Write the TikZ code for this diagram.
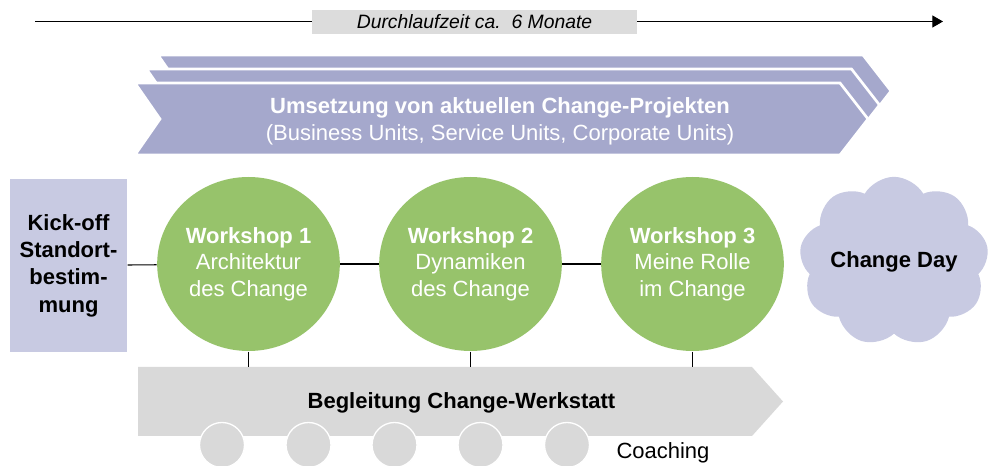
\documentclass[tikz,border=0pt]{standalone}
\usepackage{fontspec}
\setmainfont{Liberation Sans}
\usetikzlibrary{arrows.meta,shapes.geometric,shapes.symbols,positioning}
\definecolor{chevblue}{RGB}{165,168,204}
\definecolor{lightlav}{RGB}{200,202,226}
\definecolor{wsgreen}{RGB}{151,195,107}
\definecolor{bargray}{RGB}{217,217,217}
\definecolor{labelgray}{RGB}{220,220,220}
\begin{document}
\begin{tikzpicture}[x=0.75pt,y=-0.75pt,line width=0.8pt,
  big/.style={font=\fontsize{16.5}{20}\selectfont},
  bigbold/.style={font=\fontsize{16.5}{20.5}\selectfont\bfseries},
  wshop/.style={ellipse, fill=wsgreen, text=white, big, align=center, inner sep=0pt,
    minimum width=137pt, minimum height=130.5pt},
  kickbox/.style={rectangle, fill=lightlav, bigbold, align=center, inner sep=0pt,
    minimum width=87.75pt, minimum height=129.75pt}]
  \useasboundingbox (0,0) rectangle (989,466);
  % duration
  \coordinate (tstart) at (35,21.5);
  \coordinate (tend) at (943,21.5);
  \draw[-{Triangle[length=8pt,width=9pt]}] (tstart) -- (tend);
  \node[fill=labelgray, minimum width=243.75pt, minimum height=18pt, inner sep=0pt,
    font=\fontsize{14.5}{17}\selectfont\itshape] (dauer) at (474.5,22) {Durchlaufzeit ca.\ \ 6 Monate};
  % stacked chevrons, back to front
  \foreach \dx/\dy in {23/-28, 11.5/-14, 0/0} {
    \filldraw[fill=chevblue, draw=white, line width=2pt, shift={(\dx,\dy)}]
      (135,83) -- (840,83) -- (868,119) -- (840,155) -- (135,155) -- (160,119) -- cycle;
  }
  \node[text=white, big, align=center] (umsetzung) at (500,121.5)
    {\textbf{Umsetzung von aktuellen Change-Projekten}\\(Business Units, Service Units, Corporate Units)};
  % Change-Werkstatt
  \fill[bargray] (138,367) -- (752,367) -- (783,401.5) -- (752,436) -- (138,436) -- cycle;
  \coordinate (bartop) at (0,367);
  \node[bigbold] (werkstatt) at (461.5,403) {Begleitung Change-Werkstatt};
  \foreach \x in {222,308.5,394.5,480.5,567}
    \filldraw[fill=bargray, draw=white, line width=1pt] (\x,445) circle (22.5);
  \node[big] (coaching) at (663,453) {Coaching};
  % kick-off, workshops, change day
  \node[kickbox] (kick) at (68.5,265.5) {Kick-off\\Standort-\\bestim-\\mung};
  \foreach \i/\x/\t in {1/248.5/Architektur\\des Change, 2/470.5/Dynamiken\\des Change, 3/692.5/Meine Rolle\\im Change} {
    \node[wshop] (w\i) at (\x,264) {\textbf{Workshop \i}\\\t};
    \draw (w\i.south) -- (w\i.south |- bartop);
  }
  \node[cloud, cloud puffs=9, cloud puff arc=120, cloud ignores aspect, fill=lightlav, bigbold, inner sep=0pt,
    minimum width=142pt, minimum height=127pt] (day) at (894,261.5) {Change Day};
  \draw (kick) -- (w1);
  \draw (w1) -- (w2);
  \draw (w2) -- (w3);
\end{tikzpicture}
\end{document}
